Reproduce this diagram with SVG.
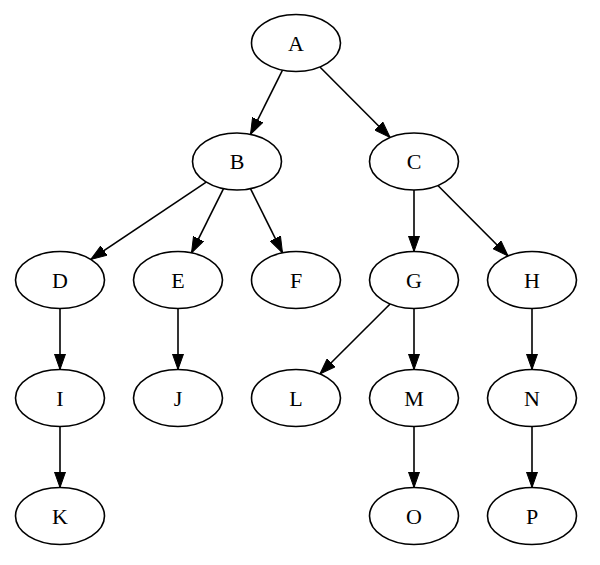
<svg xmlns="http://www.w3.org/2000/svg" width="600" height="565" viewBox="0 0 600 565">
<style>
.n ellipse{fill:none;stroke:#000;stroke-width:1.6}
.n text{font-family:"Liberation Serif","Times New Roman",serif;font-size:22px;fill:#000;text-anchor:middle;dominant-baseline:central}
#edges line{stroke:#000;stroke-width:1.6;marker-end:url(#ah)}
</style>
<defs>
<marker id="ah" markerUnits="userSpaceOnUse" viewBox="0 0 16 12" refX="16" refY="6" markerWidth="16" markerHeight="12" orient="auto">
<path d="M0,0.3 L16,6 L0,11.7 z" fill="#000" stroke="#000" stroke-width="1"/>
</marker>
</defs>
<rect width="600" height="565" fill="#fff"/>
<g id="edges">
<line x1="282.5" y1="70.2" x2="250.5" y2="134.3"/>
<line x1="319.9" y1="67.0" x2="390.1" y2="137.5"/>
<line x1="206.2" y1="182.1" x2="90.8" y2="259.4"/>
<line x1="223.5" y1="188.7" x2="191.5" y2="252.9"/>
<line x1="250.5" y1="188.7" x2="282.5" y2="252.9"/>
<line x1="414" y1="190" x2="414" y2="251.5"/>
<line x1="437.9" y1="185.5" x2="508.1" y2="256.0"/>
<line x1="60" y1="308.5" x2="60" y2="369.5"/>
<line x1="178" y1="308.5" x2="178" y2="369.5"/>
<line x1="390.1" y1="304.0" x2="319.9" y2="374.0"/>
<line x1="414" y1="308.5" x2="414" y2="369.5"/>
<line x1="532" y1="308.5" x2="532" y2="369.5"/>
<line x1="60" y1="426.5" x2="60" y2="487.5"/>
<line x1="414" y1="426.5" x2="414" y2="487.5"/>
<line x1="532" y1="426.5" x2="532" y2="487.5"/>
</g>
<g id="A" class="n"><ellipse cx="296" cy="43" rx="44.5" ry="28.5"/><text x="296" y="43">A</text></g>
<g id="B" class="n"><ellipse cx="237" cy="161.5" rx="44.5" ry="28.5"/><text x="237" y="161.5">B</text></g>
<g id="C" class="n"><ellipse cx="414" cy="161.5" rx="44.5" ry="28.5"/><text x="414" y="161.5">C</text></g>
<g id="D" class="n"><ellipse cx="60" cy="280" rx="44.5" ry="28.5"/><text x="60" y="280">D</text></g>
<g id="E" class="n"><ellipse cx="178" cy="280" rx="44.5" ry="28.5"/><text x="178" y="280">E</text></g>
<g id="F" class="n"><ellipse cx="296" cy="280" rx="44.5" ry="28.5"/><text x="296" y="280">F</text></g>
<g id="G" class="n"><ellipse cx="414" cy="280" rx="44.5" ry="28.5"/><text x="414" y="280">G</text></g>
<g id="H" class="n"><ellipse cx="532" cy="280" rx="44.5" ry="28.5"/><text x="532" y="280">H</text></g>
<g id="I" class="n"><ellipse cx="60" cy="398" rx="44.5" ry="28.5"/><text x="60" y="398">I</text></g>
<g id="J" class="n"><ellipse cx="178" cy="398" rx="44.5" ry="28.5"/><text x="178" y="398">J</text></g>
<g id="L" class="n"><ellipse cx="296" cy="398" rx="44.5" ry="28.5"/><text x="296" y="398">L</text></g>
<g id="M" class="n"><ellipse cx="414" cy="398" rx="44.5" ry="28.5"/><text x="414" y="398">M</text></g>
<g id="N" class="n"><ellipse cx="532" cy="398" rx="44.5" ry="28.5"/><text x="532" y="398">N</text></g>
<g id="K" class="n"><ellipse cx="60" cy="516" rx="44.5" ry="28.5"/><text x="60" y="516">K</text></g>
<g id="O" class="n"><ellipse cx="414" cy="516" rx="44.5" ry="28.5"/><text x="414" y="516">O</text></g>
<g id="P" class="n"><ellipse cx="532" cy="516" rx="44.5" ry="28.5"/><text x="532" y="516">P</text></g>
</svg>
